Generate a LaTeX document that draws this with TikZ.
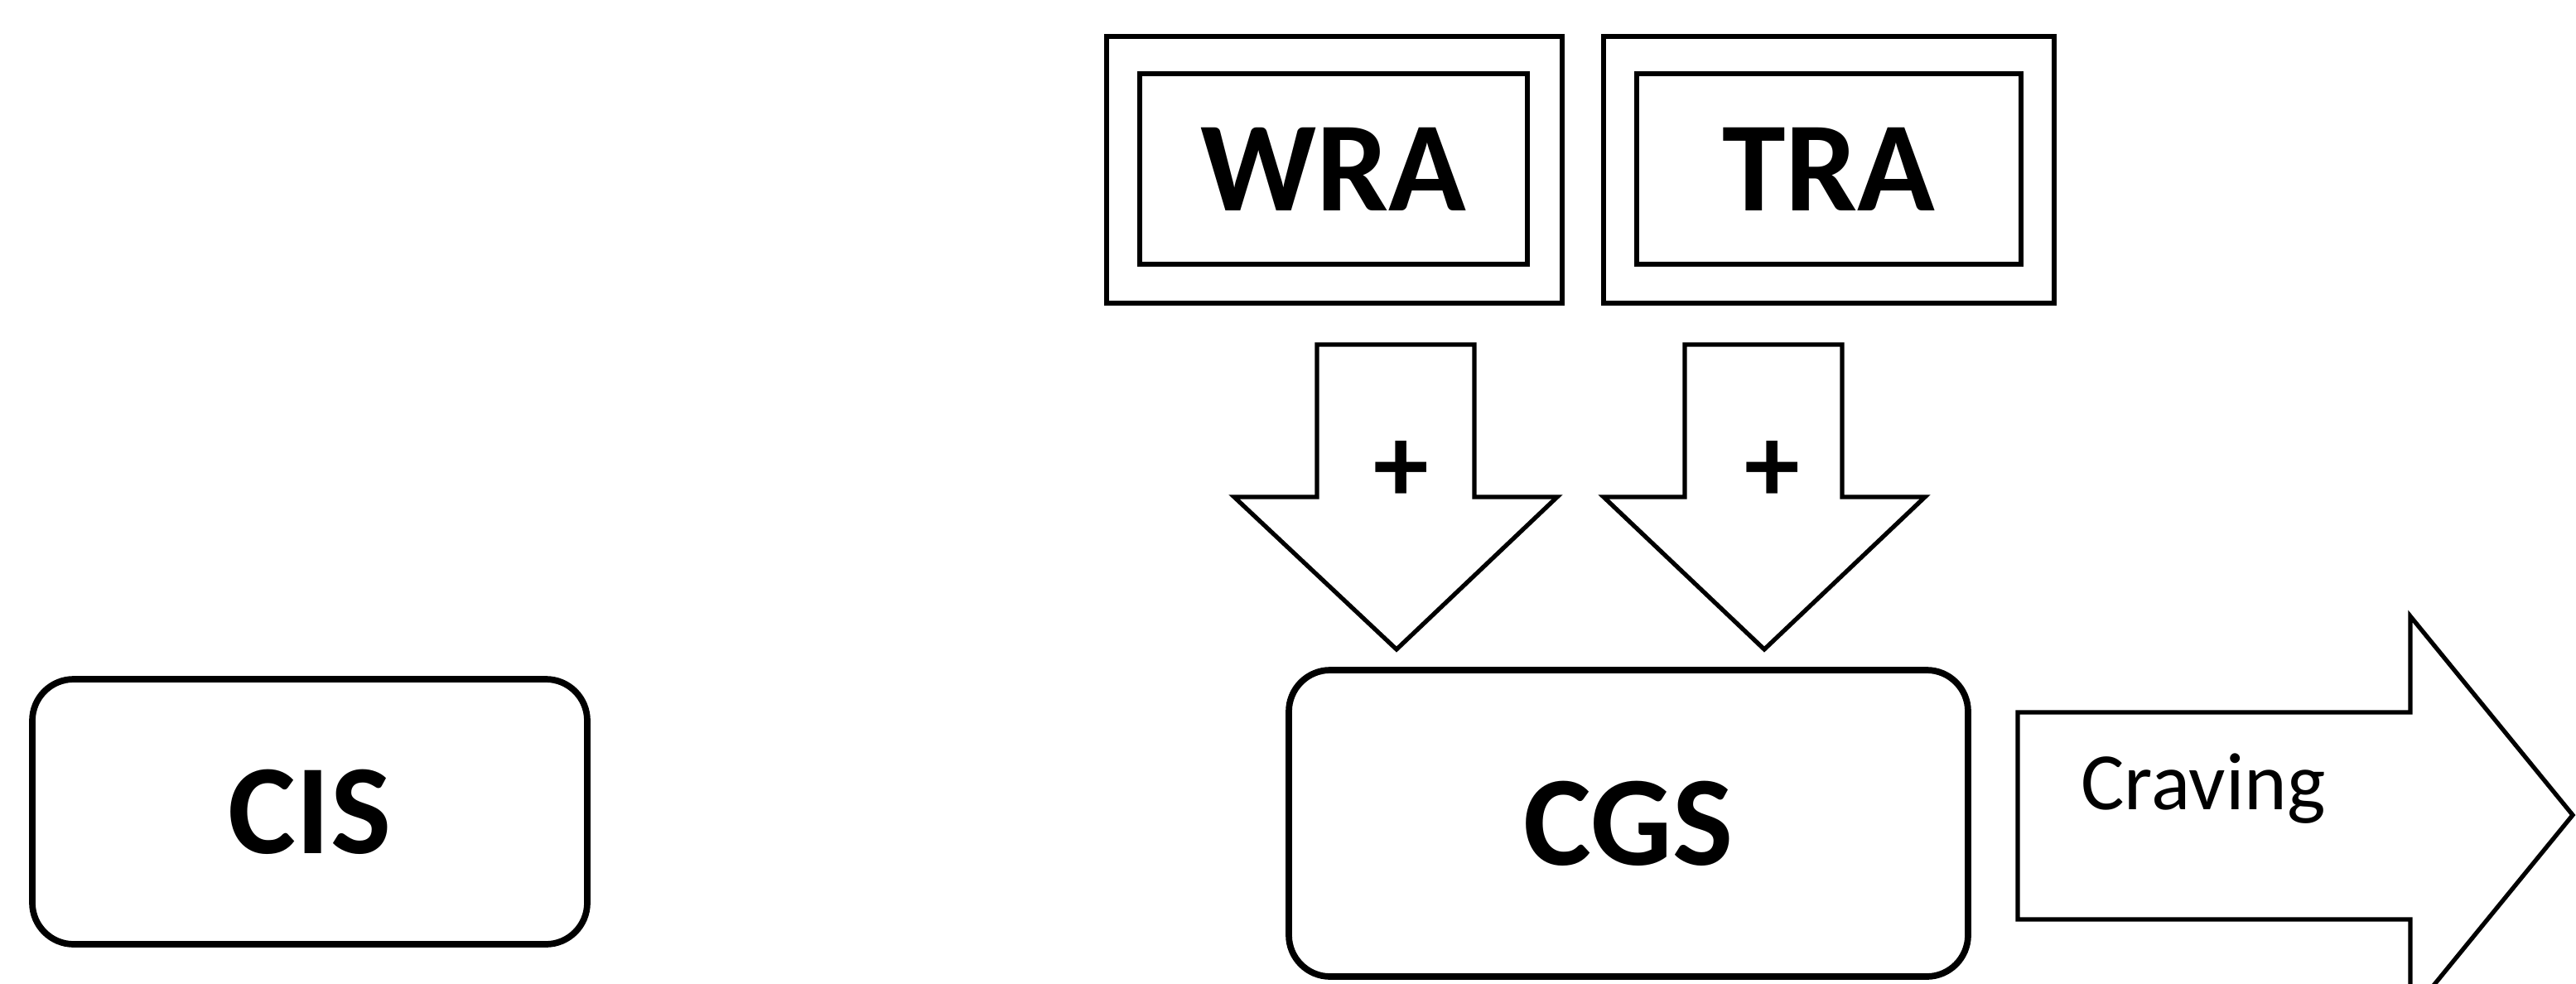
\documentclass[tikz,border=0pt]{standalone}
\usepackage{fontspec}
\setmainfont{Carlito}
\usetikzlibrary{positioning}
\begin{document}
\begin{tikzpicture}[
            x = 0.02cm, y = -0.02cm, % pixel-like units
            line join = miter,
            box/.style = {draw, line width=2.2pt, rounded corners=0.5cm,
                font=\fontsize{44}{46}\selectfont\bfseries},
            frame/.style = {draw, line width=1.5pt},
            fat arrow/.style = {draw, line width=1.5pt, fill=white}
        ]
        \useasboundingbox (0,0) rectangle (1555,593.5);

        % rounded boxes
        \node[box, minimum width=335*0.02cm, minimum height=160*0.02cm] (cis) at (187,490) {CIS};
        \node[box, minimum width=410*0.02cm, minimum height=185*0.02cm] (cgs) at (983,497) {CGS};

        % double framed boxes
        \node[frame, minimum width=234*0.02cm, minimum height=115*0.02cm,
              font=\fontsize{44}{46}\selectfont\bfseries] (wra) at (805,102) {WRA};
        \node[frame, minimum width=232*0.02cm, minimum height=115*0.02cm,
              font=\fontsize{44}{46}\selectfont\bfseries] (tra) at (1104,102) {TRA};
        \draw[frame] (668,22) rectangle (943,183);
        \draw[frame] (968,22) rectangle (1240,183);

        % block arrows down
        \draw[fat arrow] (795,208) -- (890,208) -- (890,300) -- (940,300) -- (843,392)
            -- (745,300) -- (795,300) -- cycle;
        \draw[fat arrow] (1017,208) -- (1112,208) -- (1112,300) -- (1162,300) -- (1065,392)
            -- (968,300) -- (1017,300) -- cycle;
        \node[font=\fontsize{38}{40}\selectfont\bfseries] (plus1) at (846,285) {+};
        \node[font=\fontsize{38}{40}\selectfont\bfseries] (plus2) at (1070,285) {+};

        % craving arrow
        \draw[fat arrow] (1218,430) -- (1455,430) -- (1455,372) -- (1553,492) -- (1455,612)
            -- (1455,555) -- (1218,555) -- cycle;
        \node[font=\fontsize{28}{30}\selectfont] (craving) at (1330,476) {Craving};
    \end{tikzpicture}
\end{document}
